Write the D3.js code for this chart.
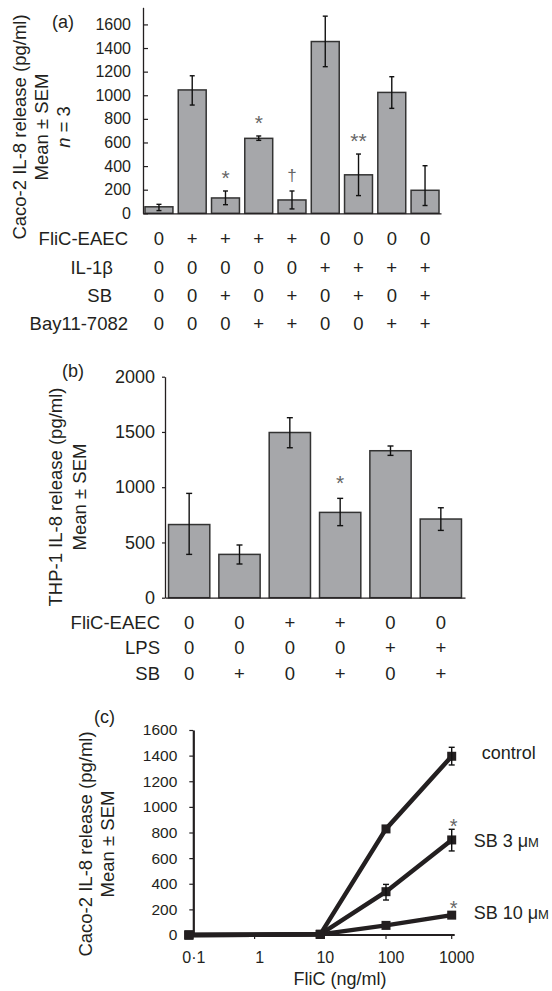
<!DOCTYPE html>
<html>
<head>
<meta charset="utf-8">
<script src="https://cdn.jsdelivr.net/npm/d3@7"></script>
<style>
  body { margin: 0; background: #fff; }
  svg text { font-family: 'Liberation Sans', Arial, Helvetica, sans-serif; fill: #231f20; }
</style>
</head>
<body>
<div id="chart"></div>
<script>
// ---- panel (a): Caco-2, FliC / IL-1b with inhibitors
var barsA   = [55, 1045, 130, 635, 113, 1455, 326, 1024, 195];
var errHiA  = [76, 1165, 189, 655, 189, 1670, 502, 1157, 403];
var errLoA  = [23, 917, 73, 618, 37, 1242, 150, 889, 66];
var sigA    = ["", "", "*", "*", "\u2020", "", "**", "", ""];
var ticksA  = [0, 200, 400, 600, 800, 1000, 1200, 1400, 1600];
var rowsA   = ["FliC-EAEC", "IL-1\u03b2", "SB", "Bay11-7082"];
var tableA  = [
  ["0", "+", "+", "+", "+", "0", "0", "0", "0"],
  ["0", "0", "0", "0", "0", "+", "+", "+", "+"],
  ["0", "0", "+", "0", "+", "0", "+", "0", "+"],
  ["0", "0", "0", "+", "+", "0", "0", "+", "+"]
];

// ---- panel (b): THP-1
var barsB   = [662, 392, 1495, 772, 1330, 712];
var errHiB  = [944, 477, 1629, 899, 1373, 814];
var errLoB  = [392, 305, 1357, 652, 1288, 609];
var sigB    = ["", "", "", "*", "", ""];
var ticksB  = [0, 500, 1000, 1500, 2000];
var rowsB   = ["FliC-EAEC", "LPS", "SB"];
var tableB  = [
  ["0", "0", "+", "+", "0", "0"],
  ["0", "0", "0", "0", "+", "+"],
  ["0", "+", "0", "+", "0", "+"]
];

// ---- panel (c): dose response
var doses      = [0.1, 10, 100, 1000];
var doseTicks  = [0.1, 1, 10, 100, 1000];
var doseLabels = ["0\u00b71", "1", "10", "100", "1000"];
var ticksC     = [0, 200, 400, 600, 800, 1000, 1200, 1400, 1600];
var controlC   = [0, 5, 828, 1395];
var sb3C       = [0, 5, 338, 742];
var sb10C      = [0, 5, 75, 155];
var controlHi  = [null, null, null, 1465];
var controlLo  = [null, null, null, 1327];
var sb3Hi      = [null, null, 395, 825];
var sb3Lo      = [null, null, 273, 656];
var sb10Hi     = [null, null, null, null];
var sb10Lo     = [null, null, null, null];
var sigC       = ["", "*", "*"];

var ink = "#231f20";
var barFill = "#a6a7aa";
var fmt = d3.format("d");

var svg = d3.select("#chart").append("svg")
  .attr("width", 552)
  .attr("height", 991);

function styleAxis(g, size) {
  g.select(".domain").attr("stroke", ink).attr("stroke-width", 1.3);
  g.selectAll(".tick line").attr("stroke", ink).attr("stroke-width", 1.2);
  g.selectAll(".tick text").style("font-size", size + "px");
}

// rotated y title, lines = [[text, baselineX, rest], ...]
function yTitle(lines, yc, size) {
  lines.forEach(function(l) {
    var t = svg.append("text")
      .attr("transform", "translate(" + l[1] + "," + yc + ") rotate(-90)")
      .attr("text-anchor", "middle")
      .style("font-size", size + "px");
    if (l[2]) {
      t.append("tspan").style("font-style", "italic").text(l[0]);
      t.append("tspan").text(l[2]);
    } else {
      t.text(l[0]);
    }
  });
}

function barPanel(o) {
  var x = d3.scaleBand().domain(d3.range(o.bars.length))
    .range(o.xRange).paddingInner(o.pIn).paddingOuter(o.pOut);
  var y = d3.scaleLinear().domain(o.yDomain).range(o.yRange);
  var bw = x.bandwidth();
  var g = svg.append("g");

  g.selectAll("rect.bar").data(o.bars).enter().append("rect")
    .attr("class", "bar")
    .attr("x", function(d, i) { return x(i); })
    .attr("y", function(d) { return y(d); })
    .attr("width", bw)
    .attr("height", function(d) { return y(0) - y(d); })
    .attr("fill", barFill)
    .attr("stroke", "#333")
    .attr("stroke-width", 1.5);

  // error bars
  var eb = g.selectAll("g.err").data(o.bars).enter().append("g").attr("class", "err");
  eb.append("line")
    .attr("x1", function(d, i) { return x(i) + bw / 2; })
    .attr("x2", function(d, i) { return x(i) + bw / 2; })
    .attr("y1", function(d, i) { return y(o.hi[i]); })
    .attr("y2", function(d, i) { return y(o.lo[i]); });
  [o.hi, o.lo].forEach(function(arr) {
    eb.append("line")
      .attr("x1", function(d, i) { return x(i) + bw / 2 - o.cap; })
      .attr("x2", function(d, i) { return x(i) + bw / 2 + o.cap; })
      .attr("y1", function(d, i) { return y(arr[i]); })
      .attr("y2", function(d, i) { return y(arr[i]); });
  });
  eb.selectAll("line").attr("stroke", "#111").attr("stroke-width", 1.4);

  // significance marks
  g.selectAll("text.sig").data(o.sig).enter().append("text")
    .attr("class", "sig")
    .attr("x", function(d, i) { return x(i) + bw / 2; })
    .attr("y", function(d, i) { return y(o.hi[i]) - (d == "\u2020" ? o.sigGap + 1 : o.sigGap - 3); })
    .attr("text-anchor", "middle")
    .style("font-size", function(d) { return d == "\u2020" ? "17px" : "21px"; })
    .style("fill", "#666")
    .text(function(d) { return d; });

  // axes
  var ya = g.append("g")
    .attr("transform", "translate(" + o.xRange[0] + ",0)")
    .call(d3.axisLeft(y).tickValues(o.ticks).tickFormat(fmt)
      .tickSize(o.tickSize).tickSizeOuter(0).tickPadding(o.tickPad));
  styleAxis(ya, o.tickFont);
  var xa = g.append("g")
    .attr("transform", "translate(0," + y(0) + ")")
    .call(d3.axisBottom(x).tickSize(0).tickSizeOuter(0).tickFormat(""));
  styleAxis(xa, o.tickFont);

  // condition table below
  o.rows.forEach(function(r, ri) {
    g.append("text")
      .attr("x", o.rowLabelX[ri])
      .attr("y", o.rowY[ri])
      .attr("text-anchor", "end")
      .style("font-size", o.tableFont + "px")
      .text(r);
    g.selectAll("text.cell" + ri).data(o.table[ri]).enter().append("text")
      .attr("class", "cell" + ri)
      .attr("x", function(d, i) { return x(i) + bw / 2; })
      .attr("y", o.rowY[ri])
      .attr("text-anchor", "middle")
      .style("font-size", o.tableFont + "px")
      .text(function(d) { return d; });
  });
}

// (a)
barPanel({
  bars: barsA, hi: errHiA, lo: errLoA, sig: sigA, ticks: ticksA,
  rows: rowsA, table: tableA,
  xRange: [143, 441], pIn: 0.16, pOut: 0.06,
  yDomain: [0, 1745], yRange: [213.3, 7.3],
  tickSize: -5, tickPad: 12, tickFont: 16, cap: 2.5, sigGap: 9,
  rowLabelX: [128, 113, 112, 128], rowY: [245, 274, 302, 330], tableFont: 18.5
});
svg.append("text").attr("x", 52).attr("y", 28).style("font-size", "18px").text("(a)");
yTitle([["Caco-2 IL-8 release (pg/ml)", 26], ["Mean \u00b1 SEM", 48], ["n", 70, " = 3"]], 127, 18.5);

// (b)
barPanel({
  bars: barsB, hi: errHiB, lo: errLoB, sig: sigB, ticks: ticksB,
  rows: rowsB, table: tableB,
  xRange: [165, 465], pIn: 0.18, pOut: 0.07,
  yDomain: [0, 2000], yRange: [597.7, 376.7],
  tickSize: 3, tickPad: 7, tickFont: 18, cap: 3, sigGap: 11,
  rowLabelX: [160, 160, 160], rowY: [628.5, 654, 679.5], tableFont: 18.5
});
svg.append("text").attr("x", 62).attr("y", 376.5).style("font-size", "18px").text("(b)");
yTitle([["THP-1 IL-8 release (pg/ml)", 62], ["Mean \u00b1 SEM", 86]], 497, 18.5);

// (c)
var xC = d3.scaleLog().domain([0.1, 1000]).range([188.9, 451.7]);
var yC = d3.scaleLinear().domain([0, 1600]).range([935, 730]);
var gC = svg.append("g");

var yaC = gC.append("g")
  .attr("transform", "translate(193.3,0)")
  .call(d3.axisLeft(yC).tickValues(ticksC).tickFormat(fmt)
    .tickSize(4).tickSizeOuter(0).tickPadding(12));
styleAxis(yaC, 15.5);
yaC.select(".domain").attr("stroke-width", 2.2);

var xaC = gC.append("g").attr("transform", "translate(0," + yC(0) + ")");
xaC.append("line")
  .attr("x1", 193.3).attr("x2", xC(1000) + 3)
  .attr("stroke", ink).attr("stroke-width", 2.2);
xaC.selectAll("line.tk").data(doseTicks).enter().append("line")
  .attr("class", "tk")
  .attr("x1", function(d) { return xC(d); })
  .attr("x2", function(d) { return xC(d); })
  .attr("y1", 0).attr("y2", 4)
  .attr("stroke", ink).attr("stroke-width", 1.2);
xaC.selectAll("text").data(doseLabels).enter().append("text")
  .attr("x", function(d, i) { return xC(doseTicks[i]) + 5; })
  .attr("y", 27.5)
  .attr("text-anchor", "middle")
  .style("font-size", "16px")
  .text(function(d) { return d; });

var seriesC = [
  {name: "control", v: controlC, hi: controlHi, lo: controlLo, dx: 30, dy: 3},
  {name: "SB 3 ", v: sb3C, hi: sb3Hi, lo: sb3Lo, dx: 22, dy: 7},
  {name: "SB 10 ", v: sb10C, hi: sb10Hi, lo: sb10Lo, dx: 22, dy: 4}
];

var line = d3.line()
  .x(function(d) { return xC(d[0]); })
  .y(function(d) { return yC(d[1]); });

seriesC.forEach(function(s, si) {
  var pts = doses.map(function(d, i) { return [d, s.v[i]]; });
  gC.append("path")
    .attr("d", line(pts))
    .attr("fill", "none")
    .attr("stroke", ink)
    .attr("stroke-width", 4.5)
    .attr("stroke-linejoin", "miter");
  gC.selectAll("rect.m" + si).data(pts).enter().append("rect")
    .attr("class", "m" + si)
    .attr("x", function(d) { return xC(d[0]) - 4.5; })
    .attr("y", function(d) { return yC(d[1]) - 4.5; })
    .attr("width", 9).attr("height", 9)
    .attr("fill", ink);
  doses.forEach(function(d, i) {
    if (s.hi[i] == null) return;
    var cx = xC(d);
    gC.append("line").attr("x1", cx).attr("x2", cx)
      .attr("y1", yC(s.hi[i])).attr("y2", yC(s.lo[i]));
    gC.append("line").attr("x1", cx - 3).attr("x2", cx + 3)
      .attr("y1", yC(s.hi[i])).attr("y2", yC(s.hi[i]));
    gC.append("line").attr("x1", cx - 3).attr("x2", cx + 3)
      .attr("y1", yC(s.lo[i])).attr("y2", yC(s.lo[i]));
  });
  var last = doses.length - 1;
  var lab = gC.append("text")
    .attr("x", xC(doses[last]) + s.dx)
    .attr("y", yC(s.v[last]) + s.dy)
    .style("font-size", "18px")
    .text(s.name);
  if (si > 0) {
    lab.append("tspan").text("\u03bc");
    lab.append("tspan").style("font-size", "13px").text("M");
  }
  if (sigC[si]) {
    var top = s.hi[last] != null ? yC(s.hi[last]) : yC(s.v[last]) - 4.5;
    gC.append("text")
      .attr("x", xC(doses[last]) + 2)
      .attr("y", top + 4)
      .attr("text-anchor", "middle")
      .style("font-size", "20px")
      .style("fill", "#666")
      .text(sigC[si]);
  }
});
gC.selectAll("line:not(.tk)").filter(function() { return !this.getAttribute("stroke"); })
  .attr("stroke", "#111").attr("stroke-width", 1.4);

svg.append("text").attr("x", 94).attr("y", 723).style("font-size", "18px").text("(c)");
yTitle([["Caco-2 IL-8 release (pg/ml)", 92], ["Mean \u00b1 SEM", 114]], 844, 18.5);
svg.append("text")
  .attr("x", 340).attr("y", 985)
  .attr("text-anchor", "middle")
  .style("font-size", "18px")
  .text("FliC (ng/ml)");
</script>
</body>
</html>
